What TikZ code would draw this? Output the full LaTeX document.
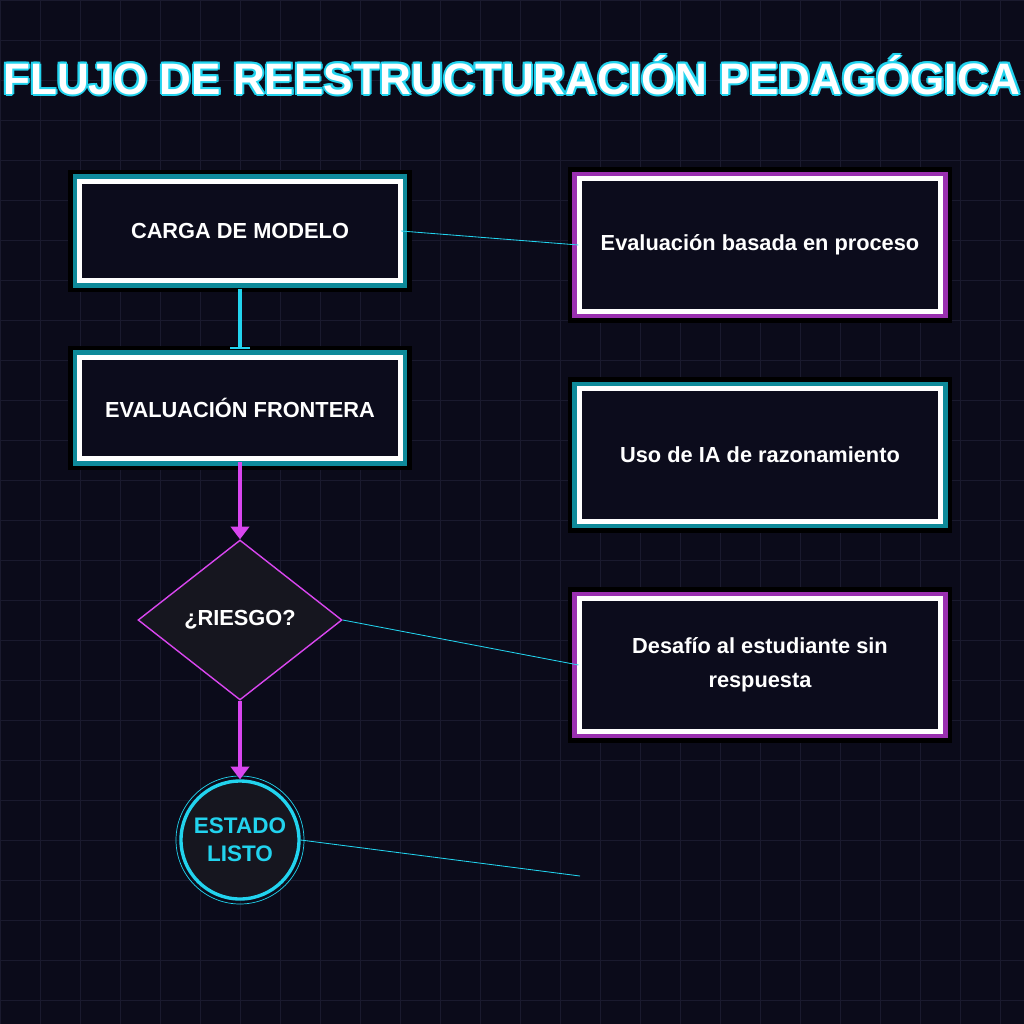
\documentclass[tikz,border=0pt]{standalone}
\usepackage{fontspec}
\setmainfont{Liberation Sans}
\usetikzlibrary{shapes.geometric,arrows.meta}
\definecolor{bg}{HTML}{0B0B1A}
\definecolor{gridc}{HTML}{1A1A2E}
\definecolor{cy}{HTML}{22D3EE}
\definecolor{tl}{HTML}{0E8A9A}
\definecolor{mg}{HTML}{D946EF}
\definecolor{pp}{HTML}{9A2FB0}
\definecolor{boxbg}{HTML}{0C0C1C}
\definecolor{dbg}{HTML}{16161F}
\tikzset{
 x=0.025cm,y=-0.025cm,
 basebox/.style={rectangle,fill=boxbg,draw=white,line width=2.2pt,inner sep=0pt,
   text=white,font=\bfseries\fontsize{15.5}{24}\selectfont,align=center},
 conn/.style={draw=cy,line width=0.6pt},
 ttl/.style={font=\bfseries\fontsize{31.3}{36}\selectfont},
}
\newcommand{\glowframe}[2]{%
 \draw[black,line width=7pt] ([shift={(-4pt,-4pt)}]#1.south west) rectangle ([shift={(4pt,4pt)}]#1.north east);
 \draw[#2,line width=3.6pt] ([shift={(-2.6pt,-2.6pt)}]#1.south west) rectangle ([shift={(2.6pt,2.6pt)}]#1.north east);
 \draw[white,line width=2.2pt] (#1.south west) rectangle (#1.north east);}
\begin{document}
\begin{tikzpicture}
\fill[bg] (0,0) rectangle (1024,1024);
\useasboundingbox (0,0) rectangle (1024,1024);
\foreach \i in {0,40,...,1000}{\draw[gridc,line width=0.6pt] (\i,0)--(\i,1024); \draw[gridc,line width=0.6pt] (0,\i)--(1024,\i);}
\foreach \dx/\dy in {-2/0,2/0,0/-2,0/2,-1.5/-1.5,1.5/1.5,-1.5/1.5,1.5/-1.5}{
 \node[ttl,text=cy] at (512+\dx,75+\dy) {FLUJO DE REESTRUCTURACIÓN PEDAGÓGICA};}
\node[ttl,text=white] (title) at (512,75) {FLUJO DE REESTRUCTURACIÓN PEDAGÓGICA};
\node[basebox,minimum width=319*0.025cm,minimum height=98*0.025cm] (carga) at (240,231) {CARGA DE MODELO};
\node[basebox,minimum width=319*0.025cm,minimum height=100*0.025cm] (front) at (240,408) {EVALUACIÓN FRONTERA};
\node[diamond,draw=mg,line width=1pt,fill=dbg,minimum width=204*0.025cm,minimum height=160*0.025cm,inner sep=0pt,aspect=1.275,text=white,font=\bfseries\fontsize{15.5}{18}\selectfont] (risk) at (240,620) {¿RIESGO?};
\node[circle,draw=cy,line width=2.4pt,fill=dbg,minimum size=118*0.025cm,inner sep=0pt,text=cy,align=center,font=\bfseries\fontsize{16}{20}\selectfont] (listo) at (240,840) {ESTADO\\LISTO};
\draw[cy,line width=0.5pt] (listo.center) circle (64);
\node[basebox,minimum width=360*0.025cm,minimum height=131*0.025cm] (p1) at (760,245) {Evaluación basada en proceso};
\node[basebox,minimum width=360*0.025cm,minimum height=131*0.025cm] (p2) at (760,455) {Uso de IA de razonamiento};
\node[basebox,minimum width=360*0.025cm,minimum height=131*0.025cm] (p3) at (760,665) {Desafío al estudiante sin\\respuesta};
\glowframe{carga}{tl}
\glowframe{front}{tl}
\glowframe{p1}{pp}
\glowframe{p2}{tl}
\glowframe{p3}{pp}
\coordinate (e4) at (580,876);
\draw[cy,line width=2.2pt,-{Bar[width=14pt,line width=2pt]}] ([yshift=-5pt]carga.south) -- ([yshift=5pt]front.north);
\draw[mg,line width=2.2pt,-{Triangle[width=13pt,length=9pt]}] ([yshift=-2pt]front.south) -- (risk.north);
\draw[mg,line width=2.2pt,-{Triangle[width=13pt,length=9pt]}] (risk.south) -- (listo.north);
\draw[conn] (carga.east) -- (p1.west);
\draw[conn] (risk.east) -- (p3.west);
\draw[conn] (listo.east) -- (e4);
\end{tikzpicture}
\end{document}
